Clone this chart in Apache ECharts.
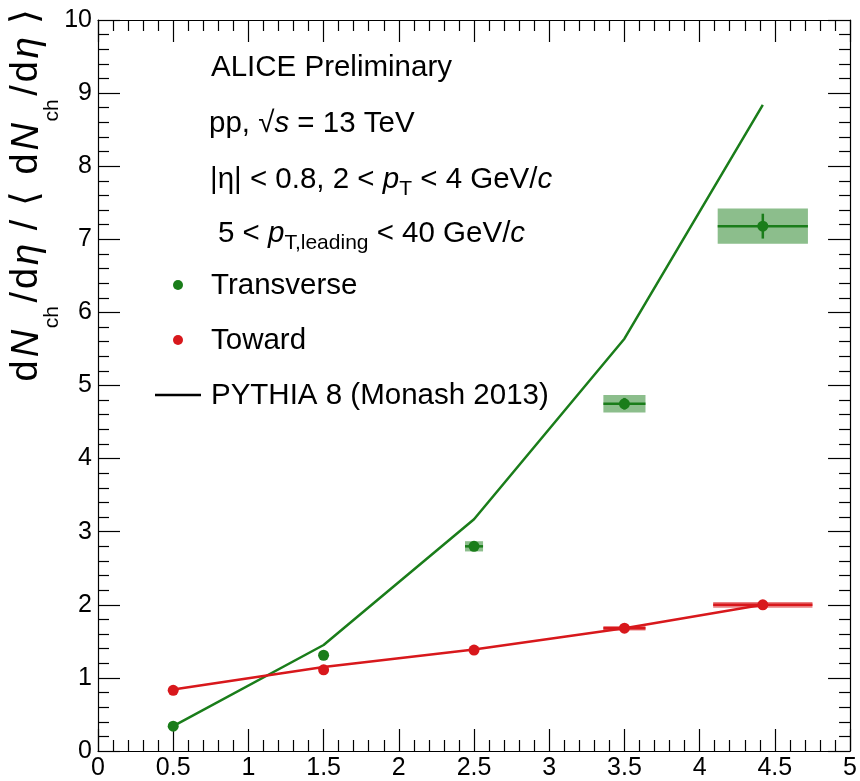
<!DOCTYPE html>
<html>
<head>
<meta charset="utf-8">
<script src="https://cdn.jsdelivr.net/npm/echarts@6/dist/echarts.min.js"></script>
<style>html,body{margin:0;padding:0;background:#fff}#c{width:860px;height:781px}</style>
</head>
<body>
<div id="c"></div>
<script>
// ---- data ----
const xBins      = [0.5, 1.5, 2.5, 3.5, 4.42];
const transVal   = [0.34, 1.31, 2.80, 4.75, 7.18];
const transStat  = [0.01, 0.02, 0.04, 0.08, 0.17];
const transSysX  = [0.0, 0.0, 0.06, 0.14, 0.30];
const transSysY  = [0.01, 0.02, 0.07, 0.12, 0.24];
const towardVal  = [0.83, 1.11, 1.38, 1.68, 2.00];
const towardStat = [0.01, 0.01, 0.01, 0.02, 0.02];
const towardSysX = [0.0, 0.0, 0.03, 0.14, 0.33];
const towardSysY = [0.01, 0.01, 0.02, 0.03, 0.04];
const pythiaTrans  = [0.34, 1.45, 3.17, 5.64, 8.84];
const pythiaToward = [0.84, 1.15, 1.39, 1.68, 2.00];
const xTicks = [0, 0.5, 1, 1.5, 2, 2.5, 3, 3.5, 4, 4.5, 5];
const yTicks = [0, 1, 2, 3, 4, 5, 6, 7, 8, 9, 10];

const GREEN = '#1a7d1a';
const RED = '#d8181c';
const FONT = '"Liberation Sans", Arial, Helvetica, sans-serif';
const TF = 29.5; // annotation font size

const chart = echarts.init(document.getElementById('c'), null, {renderer: 'canvas'});

function pts(xs, ys) { return xs.map((x, i) => [x, ys[i]]); }
function boxData(vals, stat, sx, sy) { return xBins.map((x, i) => [x, vals[i], sx[i], sy[i], stat[i]]); }

function boxRender(color, fill) {
  return function (params, api) {
    const x = api.value(0), y = api.value(1), ex = api.value(2), ey = api.value(3), st = api.value(4);
    const children = [];
    if (ex > 0) {
      const a = api.coord([x - ex, y + ey]);
      const b = api.coord([x + ex, y - ey]);
      children.push({type: 'rect', shape: {x: a[0], y: a[1], width: b[0] - a[0], height: b[1] - a[1]},
        style: {fill: fill, stroke: null}});
      const l = api.coord([x - ex, y]), r = api.coord([x + ex, y]);
      children.push({type: 'line', shape: {x1: l[0], y1: l[1], x2: r[0], y2: r[1]},
        style: {stroke: color, lineWidth: 2.5}});
    }
    const t = api.coord([x, y + st]), bt = api.coord([x, y - st]);
    children.push({type: 'line', shape: {x1: t[0], y1: t[1], x2: bt[0], y2: bt[1]},
      style: {stroke: color, lineWidth: 2.5}});
    return {type: 'group', children: children};
  };
}

const axisLineStyle = {color: '#000', width: 1.2};
const tickStyle = {color: '#000', width: 1.2};

function axisCommon(extra) {
  return Object.assign({
    axisLine: {show: true, onZero: false, lineStyle: axisLineStyle},
    axisTick: {show: true, inside: true, length: 22, lineStyle: tickStyle},
    minorTick: {show: true, splitNumber: 5, length: 11, lineStyle: tickStyle},
    splitLine: {show: false}
  }, extra);
}

function richStyles() {
  return {
    n: {fontSize: TF, fontFamily: FONT, fill: '#000', lineHeight: 40},
    i: {fontSize: TF, fontFamily: FONT, fontStyle: 'italic', fill: '#000', lineHeight: 40},
    s: {fontSize: 21, fontFamily: FONT, fill: '#000', lineHeight: 21, verticalAlign: 'bottom'}
  };
}

const option = {
  animation: false,
  backgroundColor: '#fff',
  grid: {left: 98, right: 9, top: 20, bottom: 30, containLabel: false},
  xAxis: [
    axisCommon({type: 'value', min: 0, max: 5, interval: 0.5, position: 'bottom',
     axisLabel: {show: true, color: '#000', fontSize: 25, fontFamily: FONT, margin: 5,
       formatter: v => String(v)}}),
    axisCommon({type: 'value', min: 0, max: 5, interval: 0.5, position: 'top', axisLabel: {show: false}})
  ],
  yAxis: [
    axisCommon({type: 'value', min: 0, max: 10, interval: 1, position: 'left',
     axisLabel: {show: true, color: '#000', fontSize: 25, fontFamily: FONT, margin: 6}}),
    axisCommon({type: 'value', min: 0, max: 10, interval: 1, position: 'right', axisLabel: {show: false}})
  ],
  series: [
    {name: 'Transverse sys', type: 'custom', renderItem: boxRender(GREEN, 'rgba(26,125,26,0.5)'),
     data: boxData(transVal, transStat, transSysX, transSysY), encode: {x: 0, y: 1}, z: 2, silent: true},
    {name: 'Toward sys', type: 'custom', renderItem: boxRender(RED, 'rgba(216,24,28,0.55)'),
     data: boxData(towardVal, towardStat, towardSysX, towardSysY), encode: {x: 0, y: 1}, z: 2, silent: true},
    {name: 'PYTHIA Transverse', type: 'line', data: pts(xBins, pythiaTrans), showSymbol: false,
     lineStyle: {color: GREEN, width: 2.5}, itemStyle: {color: GREEN}, z: 3},
    {name: 'PYTHIA Toward', type: 'line', data: pts(xBins, pythiaToward), showSymbol: false,
     lineStyle: {color: RED, width: 2.5}, itemStyle: {color: RED}, z: 3},
    {name: 'Transverse', type: 'scatter', data: pts(xBins, transVal), symbol: 'circle', symbolSize: 11,
     itemStyle: {color: GREEN, opacity: 1}, z: 4},
    {name: 'Toward', type: 'scatter', data: pts(xBins, towardVal), symbol: 'circle', symbolSize: 11,
     itemStyle: {color: RED, opacity: 1}, z: 4}
  ],
  graphic: [
    // y-axis title
    {type: 'text', x: 8, y: 7, rotation: Math.PI / 2, z: 10,
     style: {
       text: '{n|d}{i|N}{s|ch}{n|/}{n|d}{i|η}{n| / }{n|⟨}{n| }{n|d}{i|N}{s|ch}{n|/}{n|d}{i|η}{n| ⟩}',
       align: 'right', verticalAlign: 'top', fill: '#000',
       rich: {
         n: {fontSize: 38, fontFamily: FONT, lineHeight: 40, verticalAlign: 'top', padding: [0, 1.5, 0, 1.5], fill: '#000'},
         i: {fontSize: 38, fontFamily: FONT, fontStyle: 'italic', lineHeight: 40, verticalAlign: 'top', padding: [0, 1.5, 0, 1.5], fill: '#000'},
         s: {fontSize: 21, fontFamily: FONT, lineHeight: 21, verticalAlign: 'top', padding: [34, 2, 0, 0], fill: '#000'}
       }
     }},
    // annotation text
    {type: 'text', x: 211, y: 68, z: 10,
     style: {text: 'ALICE Preliminary', fontSize: TF, fontFamily: FONT, fill: '#000', verticalAlign: 'middle'}},
    {type: 'text', x: 209, y: 124, z: 10,
     style: {text: '{n|pp, √}{i|s}{n| = 13 TeV}', verticalAlign: 'middle', rich: richStyles()}},
    {type: 'text', x: 210, y: 180, z: 10,
     style: {text: '{n||η| < 0.8, 2 < }{i|p}{s|T}{n| < 4 GeV/}{i|c}', verticalAlign: 'middle', rich: richStyles()}},
    {type: 'text', x: 218, y: 234, z: 10,
     style: {text: '{n|5 < }{i|p}{s|T,leading}{n| < 40 GeV/}{i|c}', verticalAlign: 'middle', rich: richStyles()}},
    // legend
    {type: 'circle', shape: {cx: 178, cy: 285, r: 5}, style: {fill: GREEN}, z: 10},
    {type: 'text', x: 211, y: 286, z: 10,
     style: {text: 'Transverse', fontSize: TF, fontFamily: FONT, fill: '#000', verticalAlign: 'middle'}},
    {type: 'circle', shape: {cx: 178, cy: 340, r: 5}, style: {fill: RED}, z: 10},
    {type: 'text', x: 211, y: 341, z: 10,
     style: {text: 'Toward', fontSize: TF, fontFamily: FONT, fill: '#000', verticalAlign: 'middle'}},
    {type: 'line', shape: {x1: 155, y1: 395, x2: 201, y2: 395}, style: {stroke: '#000', lineWidth: 2.5}, z: 10},
    {type: 'text', x: 211, y: 396, z: 10,
     style: {text: 'PYTHIA 8 (Monash 2013)', fontSize: TF, fontFamily: FONT, fill: '#000', verticalAlign: 'middle'}}
  ]
};
chart.setOption(option);
</script>
</body>
</html>
